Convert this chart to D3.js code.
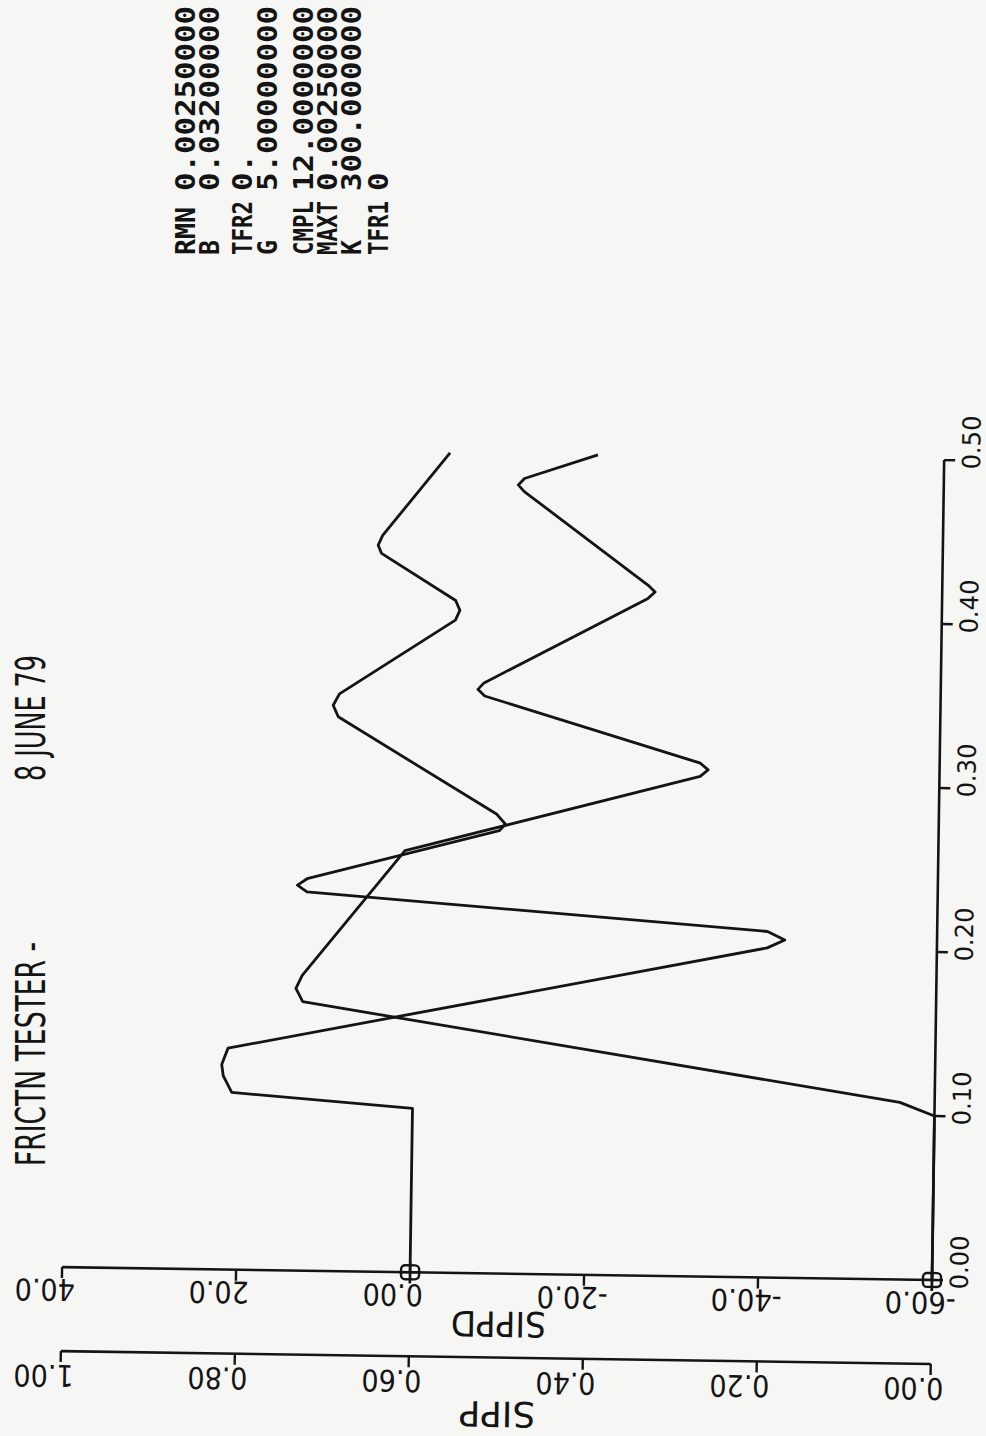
<!DOCTYPE html>
<html>
<head>
<meta charset="utf-8">
<script src="https://cdn.jsdelivr.net/npm/d3@7"></script>
<style>
  html, body { margin: 0; padding: 0; background: #f6f6f4; }
  svg { display: block; }
</style>
</head>
<body>
<script>
// Friction tester plot: SIPP and SIPPD against time, drawn turned on its side.
const timeTicks = [0.00, 0.10, 0.20, 0.30, 0.40, 0.50];
const sippdTicks = [40, 20, 0, -20, -40, -60];
const sippdLabels = ["40.0", "20.0", "0.00", "-20.0", "-40.0", "-60.0"];
const sippTicks = [1.0, 0.8, 0.6, 0.4, 0.2, 0.0];
const sippLabels = ["1.00", "0.80", "0.60", "0.40", "0.20", "0.00"];

// SIPPD trace (time, value)
const sippdTime = [0.000, 0.100, 0.108, 0.118, 0.125, 0.135, 0.201, 0.206, 0.211, 0.231, 0.235, 0.239, 0.270, 0.274, 0.280, 0.338, 0.345, 0.352, 0.398, 0.404, 0.410, 0.438, 0.443, 0.449, 0.500];
const sippdValue = [0.0, 0.0, 20.8, 21.8, 22.0, 21.3, -40.5, -42.5, -40.5, 12.5, 13.6, 12.5, -9.5, -10.2, -9.2, 9.2, 9.8, 9.1, -4.1, -4.6, -4.1, 4.5, 4.9, 4.4, -3.2];

// SIPP trace (time, value)
const sippTime = [0.000, 0.100, 0.108, 0.164, 0.172, 0.180, 0.257, 0.305, 0.309, 0.313, 0.352, 0.356, 0.360, 0.413, 0.417, 0.421, 0.477, 0.481, 0.485, 0.500];
const sippValue = [0.000, 0.000, 0.040, 0.728, 0.736, 0.729, 0.613, 0.275, 0.266, 0.275, 0.524, 0.532, 0.525, 0.338, 0.330, 0.338, 0.482, 0.489, 0.482, 0.398];

// Run parameters printed beside the plot
const paramNames = ["RMN", "B", "TFR2", "G", "CMPL", "MAXT", "K", "TFR1"];
const paramValues = ["0.00250000", "0.03200000", "0.", "5.00000000", "12.0000000", "0.00250000", "300.000000", "0"];

const W = 986, H = 1436;
const svg = d3.select("body").append("svg").attr("width", W).attr("height", H);

// The plotter sheet is slightly skewed; everything hangs off the origin corner.
const origin = [932, 1280];
const g = svg.append("g").attr("transform", `rotate(0.85, ${origin[0]}, ${origin[1]})`);

const ink = "#141414";
const t = d3.scaleLinear().domain([0, 0.5]).range([origin[1], origin[1] - 820]);
const xd = d3.scaleLinear().domain([-60, 40]).range([origin[0], origin[0] - 870]);
const xs = d3.scaleLinear().domain([0, 1]).range([origin[0], origin[0] - 870]);

const axisY2 = origin[1] + 84;
const tickFont = "'DejaVu Sans', 'Liberation Sans', sans-serif";

// Time axis (vertical, right side)
g.append("line").attr("x1", origin[0]).attr("x2", origin[0])
  .attr("y1", t(0)).attr("y2", t(0.5)).attr("stroke", ink).attr("stroke-width", 2.6);
timeTicks.forEach(v => {
  g.append("line").attr("x1", origin[0]).attr("x2", origin[0] + 11)
    .attr("y1", t(v)).attr("y2", t(v)).attr("stroke", ink).attr("stroke-width", 2.4);
  g.append("text").attr("transform", `translate(${origin[0] + 36}, ${t(v) + 9}) rotate(-90)`)
    .attr("font-family", tickFont).attr("font-size", 25).attr("fill", ink)
    .attr("textLength", 54).attr("lengthAdjust", "spacingAndGlyphs")
    .text(v.toFixed(2));
});

// Value axes (horizontal, upside-down labels)
function valueAxis(y, scale, ticks, labels, title, labelDy, titleDy) {
  g.append("line").attr("x1", scale(ticks[0])).attr("x2", scale(ticks[ticks.length - 1]))
    .attr("y1", y).attr("y2", y).attr("stroke", ink).attr("stroke-width", 2.6);
  ticks.forEach((v, i) => {
    g.append("line").attr("x1", scale(v)).attr("x2", scale(v))
      .attr("y1", y).attr("y2", y + 11).attr("stroke", ink).attr("stroke-width", 2.4);
    const lab = labels[i];
    const neg = lab.startsWith("-");
    g.append("text").attr("transform", `translate(${scale(v) + 13 + (neg ? 11 : 0)}, ${y + labelDy}) rotate(180)`)
      .attr("font-family", tickFont).attr("font-size", 30).attr("fill", ink)
      .attr("textLength", neg ? 71 : 60).attr("lengthAdjust", "spacingAndGlyphs")
      .text(lab);
  });
  g.append("text").attr("transform", `translate(${(scale.range()[0] + scale.range()[1]) / 2 + 2}, ${y + titleDy}) rotate(180)`)
    .attr("text-anchor", "middle")
    .attr("font-family", tickFont).attr("font-size", 35).attr("fill", ink)
    .attr("textLength", title.length * 19).attr("lengthAdjust", "spacingAndGlyphs")
    .text(title);
}
valueAxis(origin[1], xd, sippdTicks, sippdLabels, "SIPPD", 12, 38);
valueAxis(axisY2, xs, sippTicks, sippLabels, "SIPP", 14, 44);

// Traces
const lineD = d3.line().x(d => xd(d[1])).y(d => t(d[0]));
const lineS = d3.line().x(d => xs(d[1])).y(d => t(d[0]));
g.append("path").datum(d3.zip(sippdTime, sippdValue)).attr("d", lineD)
  .attr("fill", "none").attr("stroke", ink).attr("stroke-width", 2.8).attr("stroke-linejoin", "round");
g.append("path").datum(d3.zip(sippTime, sippValue)).attr("d", lineS)
  .attr("fill", "none").attr("stroke", ink).attr("stroke-width", 2.8).attr("stroke-linejoin", "round");

// Start markers on the traces
function marker(x, y) {
  g.append("rect").attr("x", x - 9).attr("y", y - 7).attr("width", 18).attr("height", 14)
    .attr("rx", 4).attr("fill", "none").attr("stroke", ink).attr("stroke-width", 2.4);
  g.append("line").attr("x1", x - 11).attr("x2", x + 11).attr("y1", y).attr("y2", y)
    .attr("stroke", ink).attr("stroke-width", 2.4);
  g.append("line").attr("x1", x).attr("x2", x).attr("y1", y - 11).attr("y2", y + 11)
    .attr("stroke", ink).attr("stroke-width", 2.4);
}
marker(xd(sippdValue[0]), t(sippdTime[0]));
marker(xs(sippValue[0]), t(sippTime[0]));

// Title, reading upward along the left edge
svg.append("text").attr("transform", "translate(45, 1166) rotate(-90)")
  .attr("font-family", tickFont).attr("font-size", 40).attr("fill", ink)
  .attr("textLength", 224).attr("lengthAdjust", "spacingAndGlyphs")
  .text("FRICTN TESTER -");
svg.append("text").attr("transform", "translate(45, 781) rotate(-90)")
  .attr("font-family", tickFont).attr("font-size", 40).attr("fill", ink)
  .attr("textLength", 126).attr("lengthAdjust", "spacingAndGlyphs")
  .text("8 JUNE 79");

// Parameter block
const paramX = [185, 209, 242, 267, 303, 327, 351, 378];
paramNames.forEach((n, i) => {
  svg.append("text").attr("transform", `translate(${paramX[i] + 10}, 255) rotate(-90)`)
    .attr("font-family", "'DejaVu Sans Mono', monospace").attr("font-weight", "bold")
    .attr("font-size", 27).attr("fill", ink)
    .attr("textLength", n.length === 1 ? 15 : (n.length === 3 ? 48 : 54)).attr("lengthAdjust", "spacingAndGlyphs")
    .text(n);
  svg.append("text").attr("transform", `translate(${paramX[i] + 10}, 191) rotate(-90)`)
    .attr("font-family", "'DejaVu Sans Mono', monospace").attr("font-weight", "bold")
    .attr("font-size", 27).attr("fill", ink)
    .attr("textLength", paramValues[i].length * 18.5).attr("lengthAdjust", "spacingAndGlyphs")
    .text(paramValues[i]);
});
</script>
</body>
</html>
